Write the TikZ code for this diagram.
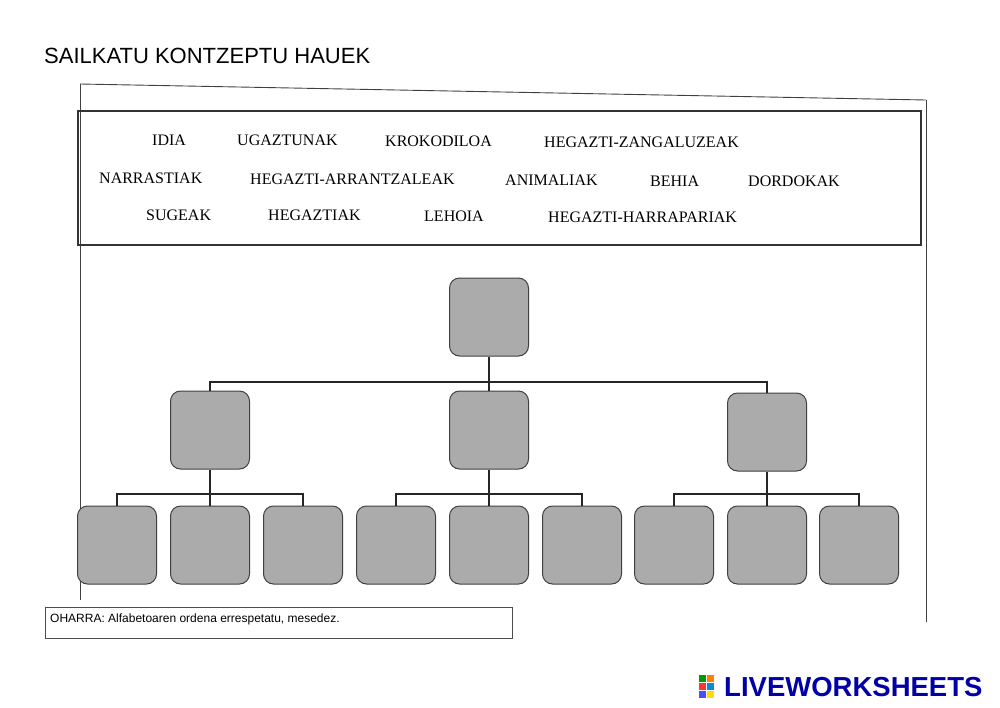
\documentclass[tikz,border=0pt]{standalone}
\usepackage{fontspec}
\setmainfont{Liberation Serif}
\setsansfont{Liberation Sans}
\begin{document}
\begin{tikzpicture}[x=1pt,y=-1pt,
  gbox/.style={draw=black!75,line width=1pt,fill=black!33,rounded corners=10pt,minimum width=79pt,minimum height=78pt,inner sep=0pt},
  wd/.style={font=\rmfamily\fontsize{16}{16}\selectfont,anchor=west,inner sep=0pt},
  ln/.style={line width=2pt,black!85}]
\useasboundingbox (0,0) rectangle (1000,707);
\node[anchor=west,font=\sffamily\fontsize{22}{22}\selectfont,inner sep=0pt] (title) at (44,56) {SAILKATU KONTZEPTU HAUEK};
% page edges
\draw[black!75,line width=0.9pt] (80,84) -- (926,100);
\draw[black!75,line width=0.9pt] (80,84) -- (80,600);
\draw[black!75,line width=0.9pt] (926,100) -- (926,622);
\draw[black!80,line width=1.3pt] (78,111) rectangle (921,245);
% words
\node[wd] (w1) at (152,140) {IDIA};
\node[wd] (w2) at (237,140) {UGAZTUNAK};
\node[wd] (w3) at (385,141) {KROKODILOA};
\node[wd] (w4) at (544,142) {HEGAZTI-ZANGALUZEAK};
\node[wd] (w5) at (99,178) {NARRASTIAK};
\node[wd] (w6) at (250,179) {HEGAZTI-ARRANTZALEAK};
\node[wd] (w7) at (505,180) {ANIMALIAK};
\node[wd] (w8) at (650,181) {BEHIA};
\node[wd] (w9) at (748,181) {DORDOKAK};
\node[wd] (w10) at (146,215) {SUGEAK};
\node[wd] (w11) at (268,215) {HEGAZTIAK};
\node[wd] (w12) at (424,216) {LEHOIA};
\node[wd] (w13) at (548,217) {HEGAZTI-HARRAPARIAK};
% boxes
\node[gbox] (r) at (489,317) {};
\node[gbox] (m1) at (210,430) {};
\node[gbox] (m2) at (489,430) {};
\node[gbox] (m3) at (767,432) {};
\foreach \i/\x in {1/117,2/210,3/303,4/396,5/489,6/582,7/674,8/767,9/859}
  \node[gbox] (b\i) at (\x,545) {};
% connectors
\coordinate (h) at (489,382);
\draw[ln] (r.south) -- (h);
\draw[ln] (m1.north) |- (h) -| (m3.north);
\draw[ln] (h) -- (m2.north);
\foreach \m/\a/\b/\c in {m1/b1/b2/b3,m2/b4/b5/b6,m3/b7/b8/b9}{
  \draw[ln] (\m.south) -- (\b.north);
  \draw[ln] (\a.north) -- ++(0,-12) -| (\c.north);
}
% note
\node[draw=black!70,anchor=north west,minimum width=467pt,minimum height=31pt,inner sep=0pt] (note) at (45,607) {};
\node[anchor=west,font=\sffamily\fontsize{12}{12}\selectfont,inner sep=0pt] (nt) at (50,619) {OHARRA: Alfabetoaren ordena errespetatu, mesedez.};
% logo
\node[fill=green!60!black,minimum size=7pt,inner sep=0pt] (l1) at (702,678) {};
\node[fill=orange,minimum size=7pt,inner sep=0pt] (l2) at (710,678) {};
\node[fill=red!80,minimum size=7pt,inner sep=0pt] (l3) at (702,686) {};
\node[fill=cyan!70!blue,minimum size=7pt,inner sep=0pt] (l4) at (710,686) {};
\node[fill=blue!70,minimum size=7pt,inner sep=0pt] (l5) at (702,694) {};
\node[fill=yellow!80!orange,minimum size=7pt,inner sep=0pt] (l6) at (710,694) {};
\node[anchor=west,font=\sffamily\bfseries\fontsize{27.5}{27.5}\selectfont,text=blue!65!black,inner sep=0pt] (logo) at (724,687) {LIVEWORKSHEETS};
\end{tikzpicture}
\end{document}
